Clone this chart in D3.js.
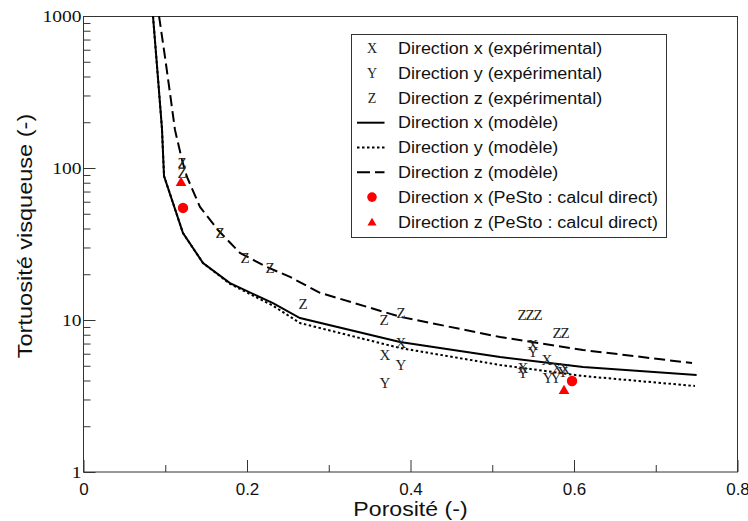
<!DOCTYPE html>
<html>
<head>
<meta charset="utf-8">
<script src="https://cdn.jsdelivr.net/npm/d3@7"></script>
<style>
  html, body { margin: 0; padding: 0; background: #fff; }
  svg { display: block; }
</style>
</head>
<body>
<svg id="chart" width="748" height="521"></svg>
<script>
// ---------------- data ----------------
const xTicks = [0, 0.2, 0.4, 0.6, 0.8];
const xMinorTicks = [0.1, 0.3, 0.5, 0.7];
const yTicks = [1, 10, 100, 1000];
const yMinorTicks = [2,3,4,5,6,7,8,9,20,30,40,50,60,70,80,90,200,300,400,500,600,700,800,900];

// model curves
const modelPhiX = [0.085, 0.0911, 0.096, 0.0985, 0.1217, 0.1462, 0.1792, 0.2318, 0.2648, 0.3872, 0.5095, 0.611, 0.75];
const modelX    = [1000, 391, 181, 88.6, 37.3, 23.7, 17.5, 12.9, 10.3, 7.17, 5.71, 4.91, 4.35];
const modelPhiY = [0.085, 0.0911, 0.096, 0.0985, 0.1217, 0.1462, 0.1792, 0.232, 0.2648, 0.3872, 0.5095, 0.611, 0.748];
const modelY    = [1000, 391, 181, 88.6, 37.3, 23.7, 17.3, 12.4, 9.55, 6.54, 5.06, 4.28, 3.68];
const modelPhiZ = [0.0924, 0.0997, 0.1058, 0.1119, 0.1205, 0.1266, 0.1425, 0.1645, 0.1914, 0.2245, 0.2526, 0.2893, 0.3872, 0.5095, 0.611, 0.7444];
const modelZ    = [1000, 537, 311, 178, 113, 87.3, 55.4, 39.1, 27.6, 22.3, 19.2, 15.1, 10.5, 7.73, 6.35, 5.21];

// experimental points
const expPhiX = [0.3688, 0.3884, 0.5498, 0.5376, 0.567, 0.5792, 0.589];
const expX    = [5.89, 7.06, 6.85, 4.83, 5.46, 4.83, 4.76];
const expPhiY = [0.3688, 0.3884, 0.5498, 0.5376, 0.5682, 0.578, 0.5866];
const expY    = [3.85, 5.06, 6.16, 4.48, 4.15, 4.15, 4.55];
const expPhiZ = [0.1205, 0.1205, 0.167, 0.1976, 0.2281, 0.2685, 0.3676, 0.3884, 0.5364, 0.5462, 0.556, 0.5792, 0.589];
const expZ    = [108, 92.7, 37.4, 25.6, 22.0, 12.7, 10.0, 11.1, 10.8, 10.8, 10.8, 8.21, 8.21];

// PeSto direct computation
const pestoPhiX = [0.1217, 0.5976];
const pestoX    = [54.6, 3.97];
const pestoPhiZ = [0.1193, 0.5878];
const pestoZ    = [79.7, 3.41];

const legendLabels = [
  "Direction x (expérimental)",
  "Direction y (expérimental)",
  "Direction z (expérimental)",
  "Direction x (modèle)",
  "Direction y (modèle)",
  "Direction z (modèle)",
  "Direction x (PeSto : calcul direct)",
  "Direction z (PeSto : calcul direct)"
];
const xTitle = "Porosité (-)";
const yTitle = "Tortuosité visqueuse (-)";

// ---------------- drawing ----------------
const SANS = "'Liberation Sans', Arial, Helvetica, sans-serif";
const SERIF = "'Liberation Serif', 'Times New Roman', serif";
const svg = d3.select("#chart");
const L = 83.5, R = 737.5, T = 16, B = 472;
const x = d3.scaleLinear().domain([0, 0.8]).range([L, R]);
const y = d3.scaleLog().domain([1, 1000]).range([B, T]);

function stretch(sel, k) {
  sel.each(function () {
    const len = this.getComputedTextLength();
    this.setAttribute("textLength", len * k);
    this.setAttribute("lengthAdjust", "spacingAndGlyphs");
  });
}

svg.append("defs").append("clipPath").attr("id", "plotclip")
  .append("rect").attr("x", L).attr("y", T).attr("width", R - L).attr("height", B - T);

// axes (ticks inward)
const gx = svg.append("g").attr("transform", `translate(0,${B})`)
  .call(d3.axisBottom(x).tickValues(xTicks).tickSize(-12).tickPadding(11)
    .tickFormat(d => d === 0 ? "0" : d3.format(".1f")(d)));
gx.select(".domain").remove();
gx.selectAll("line").attr("stroke", "#333");
gx.selectAll("text").attr("font-family", SANS).attr("font-size", 17).attr("fill", "#111");

const gxm = svg.append("g").attr("transform", `translate(0,${B})`)
  .call(d3.axisBottom(x).tickValues(xMinorTicks).tickSize(-7).tickFormat(""));
gxm.select(".domain").remove();
gxm.selectAll("line").attr("stroke", "#333");

const gy = svg.append("g").attr("transform", `translate(${L},0)`)
  .call(d3.axisLeft(y).tickValues(yTicks).tickSize(-12).tickPadding(2).tickFormat(d3.format("d")));
gy.select(".domain").remove();
gy.selectAll("line").attr("stroke", "#333");
gy.selectAll("text").attr("font-family", SERIF).attr("font-size", 16).attr("fill", "#111").attr("dy", "0.34em");
stretch(gy.selectAll("text"), 1.22);

const gym = svg.append("g").attr("transform", `translate(${L},0)`)
  .call(d3.axisLeft(y).tickValues(yMinorTicks).tickSize(-7).tickFormat(""));
gym.select(".domain").remove();
gym.selectAll("line").attr("stroke", "#333");

// frame
svg.append("rect").attr("x", L).attr("y", T + 0.5).attr("width", R - L).attr("height", B - T - 0.5)
  .attr("fill", "none").attr("stroke", "#333").attr("stroke-width", 1);

// titles
const xt = svg.append("text").attr("x", (L + R) / 2).attr("y", 516).attr("text-anchor", "middle")
  .attr("font-family", SANS).attr("font-size", 21).attr("fill", "#111").text(xTitle);
stretch(xt, 1.1);
const yt = svg.append("text").attr("transform", "translate(32,236) rotate(-90)").attr("text-anchor", "middle")
  .attr("font-family", SANS).attr("font-size", 21).attr("fill", "#111").text(yTitle);
stretch(yt, 1.12);

// model curves
const plot = svg.append("g").attr("clip-path", "url(#plotclip)");
const line = d3.line().x(d => x(d[0])).y(d => y(d[1]));
const curves = [
  { phi: modelPhiX, v: modelX, dash: null },
  { phi: modelPhiY, v: modelY, dash: "2.5 2.5" },
  { phi: modelPhiZ, v: modelZ, dash: "11 5" }
];
curves.forEach(c => {
  plot.append("path")
    .attr("d", line(c.phi.map((p, i) => [p, c.v[i]])))
    .attr("fill", "none").attr("stroke", "#000").attr("stroke-width", 2)
    .attr("stroke-dasharray", c.dash);
});

// experimental letters
function letters(phi, vals, ch) {
  plot.append("g").selectAll("text").data(phi.map((p, i) => [p, vals[i]])).join("text")
    .attr("x", d => x(d[0])).attr("y", d => y(d[1])).attr("dy", "0.34em")
    .attr("text-anchor", "middle").attr("font-family", SERIF).attr("font-size", 15)
    .attr("fill", "#222").text(ch);
}
letters(expPhiX, expX, "X");
letters(expPhiY, expY, "Y");
letters(expPhiZ, expZ, "Z");

// PeSto markers
const triangle = d3.symbol().type(d3.symbolTriangle);
plot.append("g").selectAll("circle").data(pestoPhiX.map((p, i) => [p, pestoX[i]])).join("circle")
  .attr("cx", d => x(d[0])).attr("cy", d => y(d[1])).attr("r", 5.2).attr("fill", "#ff0000");
plot.append("g").selectAll("path").data(pestoPhiZ.map((p, i) => [p, pestoZ[i]])).join("path")
  .attr("transform", d => `translate(${x(d[0])},${y(d[1])})`)
  .attr("d", triangle.size(50)()).attr("fill", "#ff0000");

// legend
const lg = svg.append("g");
lg.append("rect").attr("x", 351.5).attr("y", 34.5).attr("width", 315).attr("height", 203)
  .attr("fill", "#fff").attr("stroke", "#333").attr("stroke-width", 1);
const rowY = i => 48.3 + i * 24.8;
const symX = 372;
["X", "Y", "Z"].forEach((ch, i) => {
  lg.append("text").attr("x", symX).attr("y", rowY(i)).attr("dy", "0.34em").attr("text-anchor", "middle")
    .attr("font-family", SERIF).attr("font-size", 14).attr("fill", "#222").text(ch);
});
[null, "2.5 2.5", "13 5"].forEach((dash, j) => {
  const i = j + 3;
  lg.append("line").attr("x1", 357).attr("x2", 384.5).attr("y1", rowY(i)).attr("y2", rowY(i))
    .attr("stroke", "#000").attr("stroke-width", 2).attr("stroke-dasharray", dash);
});
lg.append("circle").attr("cx", symX).attr("cy", rowY(6)).attr("r", 4.8).attr("fill", "#ff0000");
lg.append("path").attr("transform", `translate(${symX},${rowY(7) + 1})`)
  .attr("d", triangle.size(36)()).attr("fill", "#ff0000");
const lt = lg.selectAll("text.lab").data(legendLabels).join("text").attr("class", "lab")
  .attr("x", 398).attr("y", (d, i) => rowY(i)).attr("dy", "0.35em")
  .attr("font-family", SANS).attr("font-size", 16).attr("fill", "#111").text(d => d);
stretch(lt, 1.12);
</script>
</body>
</html>
